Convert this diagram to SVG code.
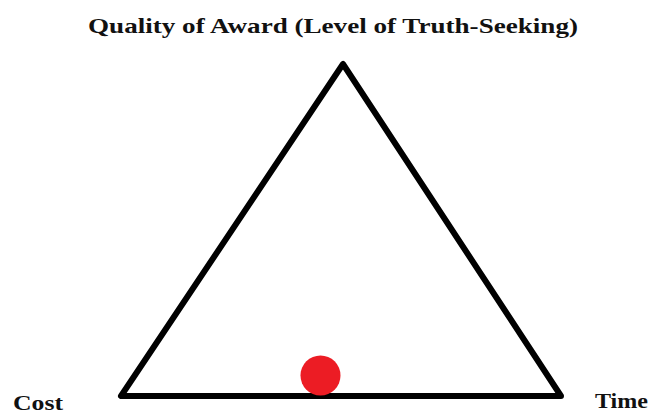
<svg xmlns="http://www.w3.org/2000/svg" width="653" height="414" viewBox="0 0 653 414">
<style>
.lbl{font-family:"Liberation Serif","Times New Roman",serif;font-weight:bold;fill:#111;}
</style>
<rect width="653" height="414" fill="#fff"/>
<g id="triangle">
<polygon points="343,64 121,396 561,396" fill="none" stroke="#000" stroke-width="6" stroke-linejoin="round"/>
</g>
<g id="dot"><circle cx="320.5" cy="375.5" r="20" fill="#ec1c24"/></g>
<g id="title"><text class="lbl" x="88" y="33" font-size="22" textLength="490" lengthAdjust="spacingAndGlyphs">Quality of Award (Level of Truth-Seeking)</text></g>
<g id="cost"><text class="lbl" x="13" y="410" font-size="21" textLength="50" lengthAdjust="spacingAndGlyphs">Cost</text></g>
<g id="time"><text class="lbl" x="595" y="408" font-size="21" textLength="53" lengthAdjust="spacingAndGlyphs">Time</text></g>
</svg>
